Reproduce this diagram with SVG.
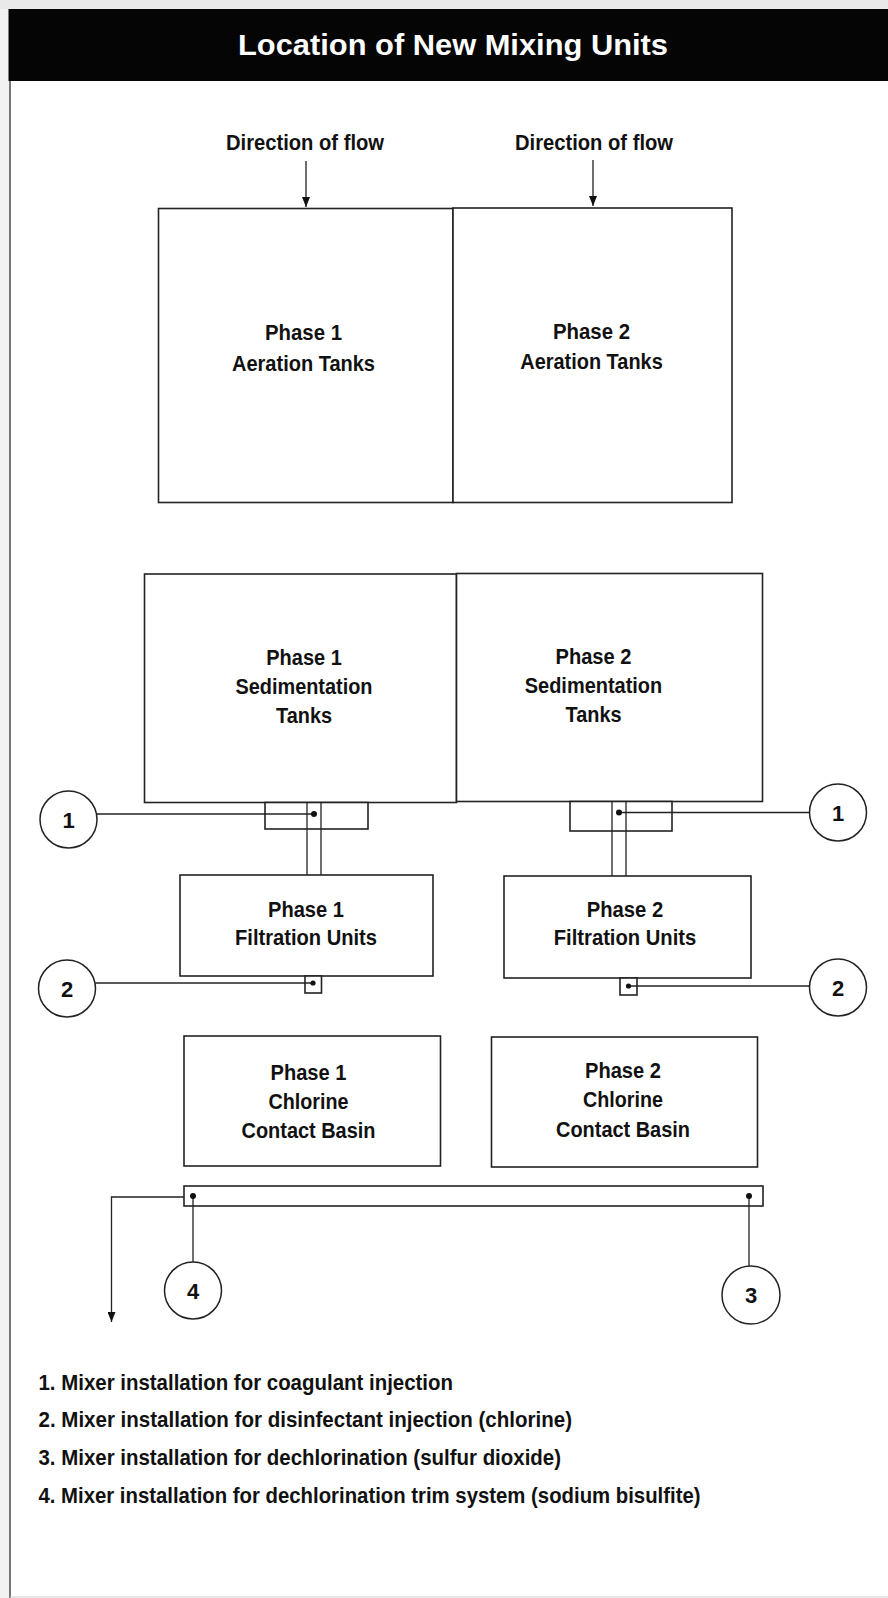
<svg xmlns="http://www.w3.org/2000/svg" width="888" height="1598" viewBox="0 0 888 1598">
<defs>
<style>
.t{font-family:"Liberation Sans Narrow","Liberation Sans",Arial,sans-serif;font-weight:bold;fill:#111;text-anchor:middle}
.lbl{font-size:21.5px}
.leg{font-size:22px;text-anchor:start}
.num{font-size:22px}
.box{fill:#fff;stroke:#222;stroke-width:1.6}
.ln{fill:none;stroke:#222;stroke-width:1.3}
.dot{fill:#111}
.circ{fill:#fff;stroke:#222;stroke-width:1.5}
</style>
<marker id="ahd" markerWidth="8" markerHeight="10" refX="4" refY="10" orient="0" markerUnits="userSpaceOnUse" viewBox="0 0 8 10">
<path d="M0,0 L8,0 L4,10 Z" fill="#111"/>
</marker>
</defs>
<rect x="0" y="0" width="888" height="1598" fill="#fff"/>
<rect x="0" y="0" width="9" height="1598" fill="#f2f2f2"/>
<rect x="0" y="0" width="888" height="9" fill="#e9e9e9"/>
<line x1="10" y1="81" x2="10" y2="1598" stroke="#555" stroke-width="1.6"/>
<line x1="10" y1="1597" x2="888" y2="1597" stroke="#cfcfcf" stroke-width="1"/>

<g id="header">
<rect x="8.5" y="9" width="879.5" height="72" fill="#050505"/>
<text class="t" x="453" y="55" style="font-size:30px;fill:#fff" textLength="430" lengthAdjust="spacingAndGlyphs">Location of New Mixing Units</text>
</g>

<g id="flow-labels">
<text class="t lbl" x="305" y="150" textLength="158" lengthAdjust="spacingAndGlyphs">Direction of flow</text>
<text class="t lbl" x="594" y="150" textLength="158" lengthAdjust="spacingAndGlyphs">Direction of flow</text>
</g>

<g id="aeration-1">
<rect class="box" x="158.5" y="208.5" width="294.5" height="294"/>
<text class="t lbl" x="303.5" y="340" textLength="77" lengthAdjust="spacingAndGlyphs">Phase 1</text>
<text class="t lbl" x="303.5" y="370.5" textLength="143" lengthAdjust="spacingAndGlyphs">Aeration Tanks</text>
</g>
<g id="aeration-2">
<rect class="box" x="453" y="208" width="279" height="294.5"/>
<text class="t lbl" x="591.5" y="338.5" textLength="77" lengthAdjust="spacingAndGlyphs">Phase 2</text>
<text class="t lbl" x="591.5" y="368.5" textLength="142.5" lengthAdjust="spacingAndGlyphs">Aeration Tanks</text>
</g>

<g id="sedimentation-1">
<rect class="box" x="144.5" y="574" width="312" height="228.5"/>
<text class="t lbl" x="304" y="665" textLength="75.5" lengthAdjust="spacingAndGlyphs">Phase 1</text>
<text class="t lbl" x="304" y="694" textLength="137" lengthAdjust="spacingAndGlyphs">Sedimentation</text>
<text class="t lbl" x="304" y="723" textLength="56" lengthAdjust="spacingAndGlyphs">Tanks</text>
</g>
<g id="sedimentation-2">
<rect class="box" x="456.5" y="573.5" width="306" height="228"/>
<text class="t lbl" x="593.5" y="664" textLength="76" lengthAdjust="spacingAndGlyphs">Phase 2</text>
<text class="t lbl" x="593.5" y="693" textLength="137.5" lengthAdjust="spacingAndGlyphs">Sedimentation</text>
<text class="t lbl" x="593.5" y="722" textLength="56" lengthAdjust="spacingAndGlyphs">Tanks</text>
</g>

<g id="filtration-1">
<rect class="box" x="180" y="875" width="253" height="101"/>
<text class="t lbl" x="306" y="917" textLength="76" lengthAdjust="spacingAndGlyphs">Phase 1</text>
<text class="t lbl" x="306" y="945" textLength="142" lengthAdjust="spacingAndGlyphs">Filtration Units</text>
</g>
<g id="filtration-2">
<rect class="box" x="504" y="876" width="247" height="102"/>
<text class="t lbl" x="625" y="917" textLength="76.5" lengthAdjust="spacingAndGlyphs">Phase 2</text>
<text class="t lbl" x="625" y="945" textLength="142.5" lengthAdjust="spacingAndGlyphs">Filtration Units</text>
</g>

<g id="chlorine-1">
<rect class="box" x="184" y="1036" width="256.5" height="130"/>
<text class="t lbl" x="308.5" y="1080" textLength="76" lengthAdjust="spacingAndGlyphs">Phase 1</text>
<text class="t lbl" x="308.5" y="1109" textLength="80" lengthAdjust="spacingAndGlyphs">Chlorine</text>
<text class="t lbl" x="308.5" y="1138" textLength="134" lengthAdjust="spacingAndGlyphs">Contact Basin</text>
</g>
<g id="chlorine-2">
<rect class="box" x="491.5" y="1037" width="266" height="130"/>
<text class="t lbl" x="623" y="1078" textLength="76" lengthAdjust="spacingAndGlyphs">Phase 2</text>
<text class="t lbl" x="623" y="1107" textLength="80" lengthAdjust="spacingAndGlyphs">Chlorine</text>
<text class="t lbl" x="623" y="1137" textLength="134" lengthAdjust="spacingAndGlyphs">Contact Basin</text>
</g>

<g id="mixer-1-left">
<rect class="box" x="265" y="802.5" width="103" height="26.5"/>
</g>
<g id="mixer-1-right">
<rect class="box" x="570" y="801.5" width="102" height="29.5"/>
</g>
<g id="mixer-2-left">
<rect class="box" x="305" y="976" width="16.5" height="17"/>
</g>
<g id="mixer-2-right">
<rect class="box" x="620" y="978" width="17" height="17"/>
</g>
<g id="outlet-pipe">
<rect class="box" x="184" y="1186" width="579" height="20"/>
</g>

<g id="connectors">
<line class="ln" x1="306" y1="161" x2="306" y2="207" marker-end="url(#ahd)"/>
<line class="ln" x1="593" y1="160" x2="593" y2="206" marker-end="url(#ahd)"/>
<line class="ln" x1="307" y1="802.5" x2="307" y2="875"/>
<line class="ln" x1="321" y1="802.5" x2="321" y2="875"/>
<line class="ln" x1="612" y1="801.5" x2="612" y2="876"/>
<line class="ln" x1="626" y1="801.5" x2="626" y2="876"/>
<line class="ln" x1="97" y1="814" x2="314" y2="814"/>
<line class="ln" x1="619" y1="812.5" x2="810" y2="812.5"/>
<line class="ln" x1="95.5" y1="983" x2="313" y2="983"/>
<line class="ln" x1="628.5" y1="986" x2="809.5" y2="986"/>
<polyline class="ln" points="184,1197 111.5,1197 111.5,1322" marker-end="url(#ahd)"/>
<line class="ln" x1="193" y1="1196" x2="193" y2="1262"/>
<line class="ln" x1="749" y1="1196" x2="749" y2="1266"/>
<circle class="dot" cx="314" cy="814" r="3"/>
<circle class="dot" cx="619" cy="812.5" r="3"/>
<circle class="dot" cx="313" cy="983" r="2.6"/>
<circle class="dot" cx="628.5" cy="986" r="2.6"/>
<circle class="dot" cx="193" cy="1196" r="3"/>
<circle class="dot" cx="749" cy="1196" r="3"/>
</g>

<g id="callout-1-left">
<circle class="circ" cx="68.5" cy="819.5" r="28.5"/>
<text class="t num" x="68.5" y="827.5">1</text>
</g>
<g id="callout-1-right">
<circle class="circ" cx="838" cy="812.5" r="28.5"/>
<text class="t num" x="838" y="820.5">1</text>
</g>
<g id="callout-2-left">
<circle class="circ" cx="67" cy="988.5" r="28.5"/>
<text class="t num" x="67" y="996.5">2</text>
</g>
<g id="callout-2-right">
<circle class="circ" cx="838" cy="987.5" r="28.5"/>
<text class="t num" x="838" y="995.5">2</text>
</g>
<g id="callout-4">
<circle class="circ" cx="193" cy="1290.5" r="28.5"/>
<text class="t num" x="193" y="1298.5">4</text>
</g>
<g id="callout-3">
<circle class="circ" cx="751" cy="1295" r="29"/>
<text class="t num" x="751" y="1303">3</text>
</g>

<g id="legend">
<text class="t leg" x="38.5" y="1390" textLength="414.5" lengthAdjust="spacingAndGlyphs">1. Mixer installation for coagulant injection</text>
<text class="t leg" x="38.5" y="1427" textLength="533.5" lengthAdjust="spacingAndGlyphs">2. Mixer installation for disinfectant injection (chlorine)</text>
<text class="t leg" x="38.5" y="1465" textLength="522.5" lengthAdjust="spacingAndGlyphs">3. Mixer installation for dechlorination (sulfur dioxide)</text>
<text class="t leg" x="38.5" y="1503" textLength="662" lengthAdjust="spacingAndGlyphs">4. Mixer installation for dechlorination trim system (sodium bisulfite)</text>
</g>
</svg>
